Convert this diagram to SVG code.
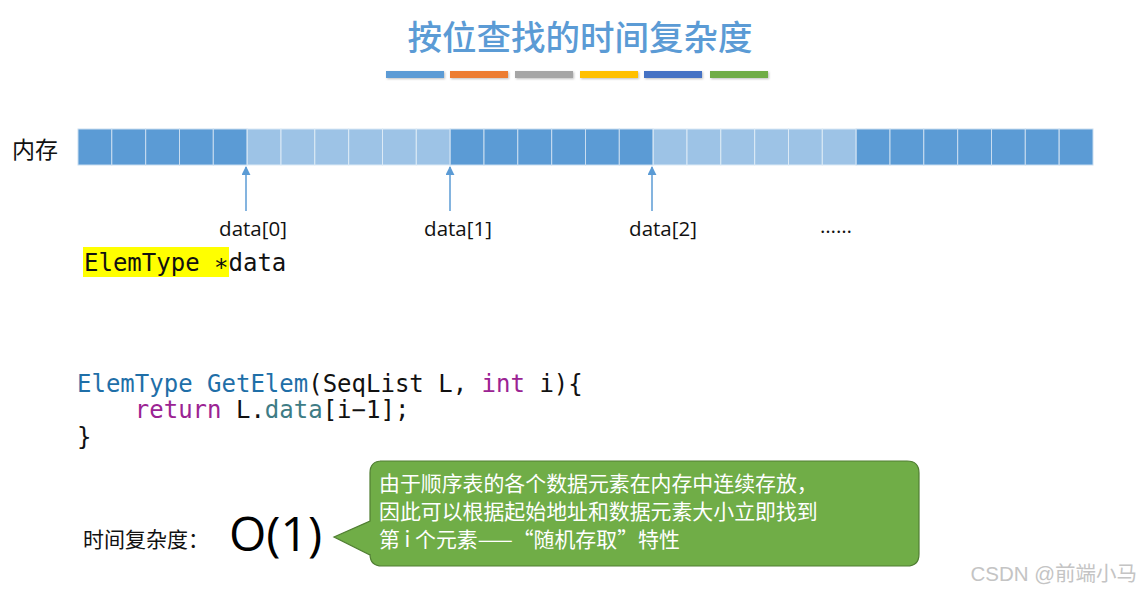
<svg xmlns="http://www.w3.org/2000/svg" width="1143" height="593" viewBox="0 0 1143 593">
<defs>
<style>
.cjk{font-family:"Noto Sans CJK SC","Liberation Sans",sans-serif}
.lbl{font-family:"Open Sans","Noto Sans","Liberation Sans",sans-serif;font-size:20.5px;fill:#111}
.mono{font-family:"DejaVu Sans Mono","Liberation Mono",monospace;font-size:24px;fill:#111}
.d{fill:#5B9BD5;stroke:#C9DDF0;stroke-width:1}
.l{fill:#9DC3E6;stroke:#DCEAF6;stroke-width:1}
.kw{fill:#1F6FA8}
.pu{fill:#9B2393}
.te{fill:#3E7C85}
.arr{stroke:#5B9BD5;stroke-width:1.5;fill:none;marker-end:url(#ah)}
</style>
<marker id="ah" viewBox="0 0 10 10" refX="9" refY="5" markerWidth="9" markerHeight="9" orient="auto" markerUnits="userSpaceOnUse"><path d="M0,0 L10,5 L0,10 z" fill="#5B9BD5"/></marker>
<filter id="sh" x="-10%" y="-50%" width="120%" height="200%"><feDropShadow dx="1" dy="1" stdDeviation="0.8" flood-color="#000" flood-opacity="0.25"/></filter>
</defs>
<rect width="1143" height="593" fill="#fff"/>
<g id="title">
<text x="580" y="50" text-anchor="middle" class="cjk" font-size="34.5" font-weight="500" fill="#5B9BD5">按位查找的时间复杂度</text>
<g filter="url(#sh)">
<rect x="386" y="71" width="58" height="7" fill="#5B9BD5"/>
<rect x="450" y="71" width="58" height="7" fill="#ED7D31"/>
<rect x="515" y="71" width="58" height="7" fill="#A5A5A5"/>
<rect x="580" y="71" width="58" height="7" fill="#FFC000"/>
<rect x="644" y="71" width="58" height="7" fill="#4472C4"/>
<rect x="710" y="71" width="58" height="7" fill="#70AD47"/>
</g>
</g>
<g id="memory-label"><text x="12" y="158" class="cjk" font-size="23" fill="#111">内存</text></g>
<g id="memory">
<rect class="d" x="78.0" y="129" width="33.8" height="36"/>
<rect class="d" x="111.8" y="129" width="33.8" height="36"/>
<rect class="d" x="145.7" y="129" width="33.8" height="36"/>
<rect class="d" x="179.5" y="129" width="33.8" height="36"/>
<rect class="d" x="213.3" y="129" width="33.8" height="36"/>
<rect class="l" x="247.2" y="129" width="33.8" height="36"/>
<rect class="l" x="281.0" y="129" width="33.8" height="36"/>
<rect class="l" x="314.8" y="129" width="33.8" height="36"/>
<rect class="l" x="348.7" y="129" width="33.8" height="36"/>
<rect class="l" x="382.5" y="129" width="33.8" height="36"/>
<rect class="l" x="416.3" y="129" width="33.8" height="36"/>
<rect class="d" x="450.2" y="129" width="33.8" height="36"/>
<rect class="d" x="484.0" y="129" width="33.8" height="36"/>
<rect class="d" x="517.8" y="129" width="33.8" height="36"/>
<rect class="d" x="551.7" y="129" width="33.8" height="36"/>
<rect class="d" x="585.5" y="129" width="33.8" height="36"/>
<rect class="d" x="619.3" y="129" width="33.8" height="36"/>
<rect class="l" x="653.2" y="129" width="33.8" height="36"/>
<rect class="l" x="687.0" y="129" width="33.8" height="36"/>
<rect class="l" x="720.8" y="129" width="33.8" height="36"/>
<rect class="l" x="754.7" y="129" width="33.8" height="36"/>
<rect class="l" x="788.5" y="129" width="33.8" height="36"/>
<rect class="l" x="822.3" y="129" width="33.8" height="36"/>
<rect class="d" x="856.2" y="129" width="33.8" height="36"/>
<rect class="d" x="890.0" y="129" width="33.8" height="36"/>
<rect class="d" x="923.8" y="129" width="33.8" height="36"/>
<rect class="d" x="957.7" y="129" width="33.8" height="36"/>
<rect class="d" x="991.5" y="129" width="33.8" height="36"/>
<rect class="d" x="1025.3" y="129" width="33.8" height="36"/>
<rect class="d" x="1059.2" y="129" width="33.8" height="36"/>
</g>
<g id="connectors">
<line class="arr" x1="246" y1="211" x2="246" y2="167"/>
<line class="arr" x1="450" y1="211" x2="450" y2="167"/>
<line class="arr" x1="652" y1="211" x2="652" y2="167"/>
</g>
<g id="labels">
<text x="253" y="236" text-anchor="middle" class="lbl">data[0]</text>
<text x="458" y="236" text-anchor="middle" class="lbl">data[1]</text>
<text x="663" y="236" text-anchor="middle" class="lbl">data[2]</text>
<text x="836" y="233" text-anchor="middle" class="lbl">……</text>
</g>
<g id="decl">
<rect x="83" y="247" width="146" height="30" fill="#FFFF00"/>
<text x="84" y="271" class="mono">ElemType ∗data</text>
</g>
<g id="code">
<text x="77" y="392" class="mono" xml:space="preserve"><tspan class="kw">ElemType GetElem</tspan>(SeqList L, <tspan class="pu">int</tspan> i){</text>
<text x="77" y="418" class="mono" xml:space="preserve">    <tspan class="pu">return</tspan> L.<tspan class="te">data</tspan>[i−1];</text>
<text x="77" y="445" class="mono">}</text>
</g>
<g id="complexity">
<text x="83" y="547" class="cjk" font-size="21" fill="#111">时间复杂度：</text>
<text x="229" y="551" font-family="Open Sans,Liberation Sans,sans-serif" font-size="48" fill="#000">O(1)</text>
</g>
<g id="callout">
<path d="M380,461 H907 Q919,461 919,473 V554 Q919,566 907,566 H382 Q370,566 370,554 V555 L334,537 L370,521 V473 Q370,461 382,461 Z" fill="#70AD47" stroke="#507E32" stroke-width="1.2"/>
<g class="cjk" font-size="20.9" fill="#fff">
<text x="379" y="491">由于顺序表的各个数据元素在内存中连续存放，</text>
<text x="379" y="519">因此可以根据起始地址和数据元素大小立即找到</text>
<text x="379" y="547">第 i 个元素——“随机存取”特性</text>
</g>
</g>
<g id="watermark"><text x="1137" y="581" text-anchor="end" font-family="Liberation Sans,Noto Sans CJK SC,sans-serif" font-size="20.5" fill="#C4C4C4">CSDN @前端小马</text></g>
</svg>
